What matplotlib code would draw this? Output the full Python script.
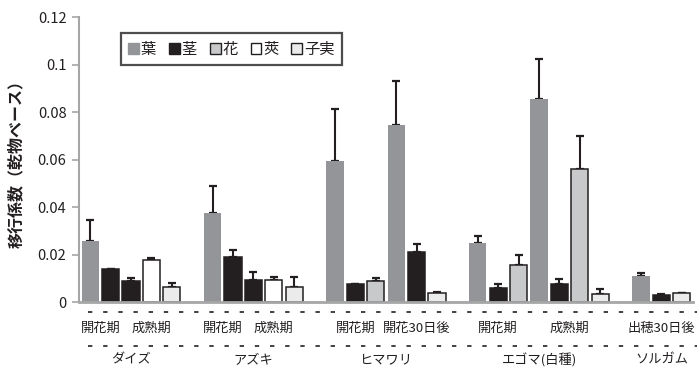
import matplotlib
matplotlib.use("Agg")
import matplotlib.pyplot as plt
import matplotlib.patches as mpatches
from matplotlib.lines import Line2D
from matplotlib.transforms import blended_transform_factory
import numpy as np

plt.rcParams['font.family'] = ['Noto Sans CJK JP', 'DejaVu Sans']

# ---- data ----
crops = ["ダイズ", "アズキ", "ヒマワリ", "エゴマ(白種)", "ソルガム"]
stage_names = ["開花期", "成熟期", "開花期", "成熟期", "開花期", "開花30日後",
               "開花期", "成熟期", "出穂30日後"]
stage_crop = [0, 0, 1, 1, 2, 2, 3, 3, 4]
stage_nbars = [2, 3, 2, 3, 3, 3, 3, 4, 3]

organs = ["葉", "茎", "花", "莢", "子実"]
bar_organ = ["葉", "茎", "茎", "莢", "子実",
             "葉", "茎", "茎", "莢", "子実",
             "葉", "茎", "花", "葉", "茎", "子実",
             "葉", "茎", "花", "葉", "茎", "花", "子実",
             "葉", "茎", "子実"]
bar_value = [0.0258, 0.0139, 0.0090, 0.0178, 0.0066,
             0.0375, 0.0190, 0.0095, 0.0094, 0.0064,
             0.0595, 0.0077, 0.0088, 0.0747, 0.0212, 0.0040,
             0.0250, 0.0061, 0.0157, 0.0856, 0.0078, 0.0560, 0.0035,
             0.0110, 0.0031, 0.0038]
bar_err = [0.0090, 0.0003, 0.0014, 0.0010, 0.0015,
           0.0116, 0.0030, 0.0034, 0.0013, 0.0042,
           0.0219, 0.0000, 0.0014, 0.0183, 0.0035, 0.0004,
           0.0030, 0.0015, 0.0042, 0.0168, 0.0020, 0.0139, 0.0021,
           0.0013, 0.0004, 0.0003]

# ---- styles ----
fill = {"葉": "#939598", "茎": "#231f20", "花": "#c8c9cb", "莢": "#ffffff", "子実": "#ebebec"}
edge = {"葉": "none", "茎": "#231f20", "花": "#231f20", "莢": "#231f20", "子実": "#231f20"}

# positions: bars consecutive within each crop, one empty slot between crops
positions = []
stage_centers = []
slot = 0
prev_crop = stage_crop[0]
crop_slots = {}
for si, n in enumerate(stage_nbars):
    c = stage_crop[si]
    if c != prev_crop:
        slot += 1
        prev_crop = c
    xs = list(range(slot, slot + n))
    positions.extend(xs)
    stage_centers.append(np.mean(xs))
    crop_slots.setdefault(c, []).extend(xs)
    slot += n
positions = np.array(positions, dtype=float)

fig = plt.figure(figsize=(6.97, 3.71), dpi=100)
ax = fig.add_axes([0.1133, 0.1852, 0.881, 0.7682])

width = 0.85
for x, o, v, e in zip(positions, bar_organ, bar_value, bar_err):
    lw = 0 if o == "葉" else 1.1
    ax.bar(x, v, width=width, color=fill[o], edgecolor=edge[o], linewidth=lw, zorder=3)
    ax.errorbar(x, v, yerr=[[0], [e]], fmt="none", ecolor="#231f20",
                elinewidth=1.5, capsize=3, capthick=1.6, zorder=2)

ax.set_xlim(-0.55, positions[-1] + 0.55)
ax.set_ylim(0, 0.12)
ax.set_yticks([0, 0.02, 0.04, 0.06, 0.08, 0.1, 0.12])
ax.set_yticklabels(["0", "0.02", "0.04", "0.06", "0.08", "0.1", "0.12"])
ax.set_xticks([])
ax.tick_params(axis="y", direction="out", length=5, width=1.2, color="#a6a6a6",
               labelsize=10.5, labelcolor="#231f20", pad=4)
for s in ["top", "right"]:
    ax.spines[s].set_visible(False)
ax.spines["left"].set_color("#a6a6a6")
ax.spines["left"].set_linewidth(1.5)
ax.spines["bottom"].set_color("#a6a6a6")
ax.spines["bottom"].set_linewidth(2.0)
ax.spines["bottom"].set_zorder(4)

ax.set_ylabel("移行係数（乾物ベース）", fontsize=11.5, fontweight="bold",
              color="#231f20", labelpad=10)

# legend
handles = [mpatches.Patch(facecolor=fill[o], edgecolor=("#231f20" if o not in ("葉", "茎") else fill[o]),
                          linewidth=1.0, label=o) for o in organs]
leg = ax.legend(handles=handles, loc="upper left", bbox_to_anchor=(0.068, 0.945),
                ncol=5, frameon=True, fancybox=False, fontsize=11,
                handlelength=0.7, handleheight=0.7, handletextpad=0.12,
                columnspacing=0.85, borderpad=0.5, borderaxespad=0)
leg.get_frame().set_edgecolor("#231f20")
leg.get_frame().set_linewidth(1.6)
for t in leg.get_texts():
    t.set_color("#231f20")

# category labels
tr = blended_transform_factory(ax.transData, fig.transFigure)
for name, cx in zip(stage_names, stage_centers):
    ax.text(cx, 0.1146, name, transform=tr, ha="center", va="center",
            fontsize=9.5, color="#231f20", clip_on=False)
for c, name in enumerate(crops):
    cx = np.mean(crop_slots[c])
    ax.text(cx, 0.029, name, transform=tr, ha="center", va="center",
            fontsize=9.5, color="#231f20", clip_on=False)

# dashed separator rows
for yy in [0.158, 0.068]:
    fig.add_artist(Line2D([88 / 697, 1.0], [yy, yy], transform=fig.transFigure,
                          color="#333333", linewidth=1.3, dashes=(2.4, 6.0)))

fig.savefig("out.png", dpi=100)
